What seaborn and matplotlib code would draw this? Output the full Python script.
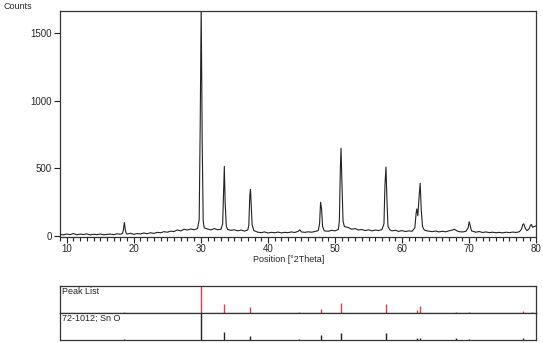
"""
XRD pattern of SnO with peak list and reference pattern 72-1012.
"""
import pandas as pd
import seaborn as sns
import matplotlib.pyplot as plt

two_theta = [
    9.0, 9.5, 10.0, 10.5, 11.0, 11.5, 12.0, 12.5, 13.0, 13.5,
    14.0, 14.5, 15.0, 15.5, 16.0, 16.5, 17.0, 17.5, 18.0,
    18.3, 18.45, 18.6, 18.75, 18.9,
    19.0, 19.5, 20.0, 20.5, 21.0, 21.5, 22.0, 22.5, 23.0, 23.5,
    24.0, 24.5, 25.0, 25.5, 26.0, 26.5, 27.0, 27.5, 28.0, 28.5,
    29.0, 29.5,
    29.75, 29.9, 30.05, 30.2, 30.35, 30.5,
    31.0, 31.5, 32.0, 32.5, 33.0,
    33.25, 33.4, 33.5, 33.62, 33.8,
    34.0, 34.5, 35.0, 35.5, 36.0, 36.5, 37.0,
    37.15, 37.3, 37.4, 37.5, 37.65, 37.9,
    38.5, 39.0, 39.5, 40.0, 40.5, 41.0, 41.5, 42.0, 42.5, 43.0,
    43.5, 44.0, 44.5, 44.75, 45.0, 45.5, 46.0, 46.5, 47.0, 47.5,
    47.7, 47.85, 48.0, 48.15, 48.4,
    49.0, 49.5, 50.0, 50.5,
    50.65, 50.8, 50.9, 51.02, 51.2, 51.4,
    52.0, 52.5, 53.0, 53.5, 54.0, 54.5, 55.0, 55.5, 56.0, 56.5,
    57.0,
    57.3, 57.45, 57.6, 57.75, 57.9,
    58.2, 58.5, 59.0, 59.5, 60.0, 60.5, 61.0, 61.5, 61.9,
    62.1, 62.2, 62.35, 62.55, 62.7, 62.85, 63.05, 63.3,
    63.5, 64.0, 64.5, 65.0, 65.5, 66.0, 66.5, 67.0, 67.5, 67.8,
    68.1, 68.5, 69.0, 69.5,
    69.85, 70.0, 70.15, 70.35,
    71.0, 71.5, 72.0, 72.5, 73.0, 73.5, 74.0, 74.5, 75.0, 75.5,
    76.0, 76.5, 77.0, 77.5,
    77.8, 78.0, 78.15, 78.35, 78.6, 78.9, 79.15, 79.3, 79.45, 79.7,
    80.0,
]
counts = [
    12, 8, 15, 10, 18, 9, 14, 11, 16, 8,
    13, 10, 15, 9, 12, 14, 10, 16, 13,
    18, 45, 100, 40, 17,
    14, 20, 12, 18, 15, 22, 17, 24, 19, 27,
    24, 32, 28, 36, 33, 45, 38, 50, 44, 52,
    46, 55,
    120, 800, 1700, 700, 110, 60,
    52, 45, 55, 46, 50,
    90, 350, 515, 250, 70,
    48, 42, 46, 38, 44, 36, 45,
    80, 300, 345, 240, 80, 40,
    28, 25, 30, 22, 27, 24, 29, 23, 27, 25,
    30, 26, 34, 46, 30, 27, 31, 28, 33, 40,
    90, 250, 200, 70, 38,
    35, 42, 38, 48,
    110, 500, 650, 420, 110, 70,
    62, 50, 55, 44, 48, 40, 46, 38, 44, 40,
    48,
    90, 380, 510, 260, 70,
    45, 38, 42, 34, 40, 33, 38, 35, 60,
    170, 200, 150, 300, 390, 200, 70, 45,
    40, 36, 32, 37, 30, 35, 31, 38, 44, 50,
    40, 32, 30, 34,
    60, 105, 80, 38,
    28, 33, 26, 30, 25, 28, 24, 27, 23, 28,
    25, 29, 26, 32,
    50, 85, 90, 60, 40, 50, 80, 85, 65, 70,
    75,
]

# --- peak list (relative intensity, %) ---
peak_pos = [18.6, 30.05, 33.5, 37.4, 44.7, 47.9, 50.9, 57.6, 62.2, 62.7, 68.0, 70.0, 78.1, 79.3]
peak_rel = [4, 100, 31, 22, 3, 14, 36, 33, 10, 25, 3, 4, 6, 4]

# --- reference pattern 72-1012; Sn O (relative intensity, %) ---
ref_pos = [18.6, 30.05, 33.5, 37.4, 44.7, 47.9, 50.9, 57.6, 62.2, 62.7, 68.0, 70.0, 78.1]
ref_rel = [4, 100, 28, 15, 5, 18, 27, 27, 8, 8, 6, 5, 6]

sns.set_style("ticks")
plt.rcParams['font.family'] = ['Liberation Sans', 'DejaVu Sans']

fig = plt.figure(figsize=(5.43, 3.43), dpi=100)
ax = fig.add_axes([0.1105, 0.310, 0.877, 0.658])

scan_df = pd.DataFrame({"two_theta": two_theta, "counts": counts})
sns.lineplot(data=scan_df, x="two_theta", y="counts", color="#222222", linewidth=0.8, ax=ax)

ax.set_xlim(9.0, 80.0)
ax.set_ylim(-5, 1665)
ax.set_xticks([10, 20, 30, 40, 50, 60, 70, 80])
ax.set_xticks(range(9, 81), minor=True)
ax.set_yticks([0, 500, 1000, 1500])
ax.tick_params(axis="x", which="major", length=4, width=0.8, labelsize=7, pad=1, color="#222222")
ax.tick_params(axis="x", which="minor", length=3, width=0.8, color="#222222")
ax.tick_params(axis="y", which="major", length=4, width=0.8, labelsize=7, pad=2, color="#222222")
ax.set_xlabel("")
ax.set_ylabel("")
for s in ax.spines.values():
    s.set_visible(True)
    s.set_linewidth(0.9)
    s.set_color("#333333")

fig.text(0.007, 0.982, "Counts", fontsize=6.5, ha="left", va="center")
fig.text(0.532, 0.243, "Position [°2Theta]", fontsize=6.5, ha="center", va="center")

# --- peak list panel ---
ax2 = fig.add_axes([0.1105, 0.0884, 0.877, 0.0778])
ax2.vlines(peak_pos, 0, [v / 100 for v in peak_rel], color="#e8384f", linewidth=1.0)
ax2.text(0.004, 0.97, "Peak List", transform=ax2.transAxes, fontsize=6.5, ha="left", va="top")

# --- reference panel ---
ax3 = fig.add_axes([0.1105, 0.0087, 0.877, 0.0797])
ax3.vlines(ref_pos, 0, [v / 100 for v in ref_rel], color="#222222", linewidth=1.0)
ax3.text(0.004, 0.97, "72-1012; Sn O", transform=ax3.transAxes, fontsize=6.5, ha="left", va="top")

for a in (ax2, ax3):
    a.set_xlim(9.0, 80.0)
    a.set_ylim(0, 1.0)
    a.set_xticks([])
    a.set_yticks([])
    for s in a.spines.values():
        s.set_visible(True)
        s.set_linewidth(0.9)
        s.set_color("#333333")

fig.savefig("out.png", dpi=100)
